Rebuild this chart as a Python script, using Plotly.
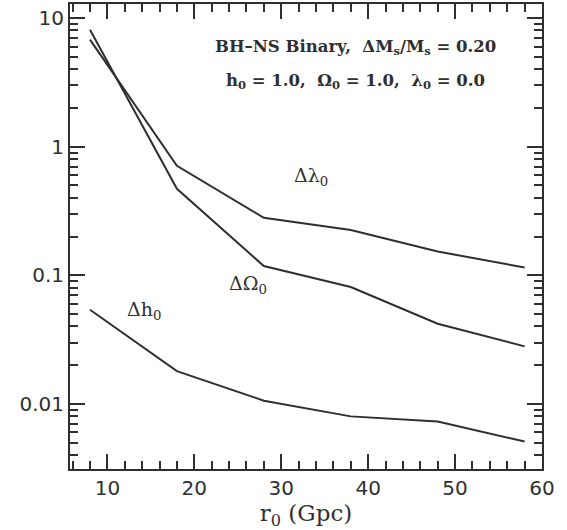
import plotly.graph_objects as go

r0 = [8, 18, 28, 38, 48, 58]
d_lambda = [6.8, 0.71, 0.28, 0.225, 0.153, 0.115]
d_omega = [8.1, 0.47, 0.118, 0.081, 0.042, 0.028]
d_h = [0.054, 0.018, 0.0106, 0.0080, 0.0073, 0.0051]

x_ticks = [10, 20, 30, 40, 50, 60]
y_ticks = [0.01, 0.1, 1, 10]
y_ticklabels = ["0.01", "0.1", "1", "10"]

ink = "#2f2f2f"
fig = go.Figure()
for ys in (d_lambda, d_omega, d_h):
    fig.add_trace(go.Scatter(x=r0, y=ys, mode="lines",
                             line=dict(color=ink, width=2), showlegend=False))

tfont = dict(family="DejaVu Sans", size=20, color=ink)
fig.update_layout(
    width=567, height=530,
    margin=dict(l=70, r=25, t=4, b=61),
    paper_bgcolor="white", plot_bgcolor="white",
    font=dict(family="DejaVu Serif", color=ink),
    xaxis=dict(range=[5.7, 60], tickvals=x_ticks, ticks="inside", ticklen=15,
               tickwidth=2, tickcolor=ink, showline=True, linecolor=ink,
               linewidth=2, mirror="allticks", showgrid=False, zeroline=False,
               tickfont=tfont, automargin=False,
               minor=dict(dtick=2, ticks="inside", ticklen=8, tickwidth=1.5,
                          tickcolor=ink, showgrid=False),
               title=dict(text="r<sub>0</sub> (Gpc)", font=dict(family="DejaVu Serif", size=23, color=ink),
                          standoff=2)),
    yaxis=dict(type="log", range=[-2.506, 1.109], tickvals=y_ticks,
               ticktext=y_ticklabels, ticks="inside", ticklen=15, tickwidth=2,
               tickcolor=ink, showline=True, linecolor=ink, linewidth=2,
               mirror="allticks", showgrid=False, zeroline=False, tickfont=tfont,
               automargin=False,
               minor=dict(dtick="D1", ticks="inside", ticklen=8, tickwidth=1.5,
                          tickcolor=ink, showgrid=False)),
)

afont = dict(family="DejaVu Serif", size=16.5, color=ink)
fig.add_annotation(x=0.604, y=0.933, xref="paper", yref="paper", xanchor="center",
                   text="<b>BH\u2013NS Binary,  \u0394M<sub>s</sub>/M<sub>s</sub> = 0.20</b>",
                   showarrow=False, font=afont)
fig.add_annotation(x=0.604, y=0.861, xref="paper", yref="paper", xanchor="center",
                   text="<b>h<sub>0</sub> = 1.0,  \u03a9<sub>0</sub> = 1.0,  \u03bb<sub>0</sub> = 0.0</b>",
                   showarrow=False, font=afont)
lfont = dict(family="DejaVu Serif", size=19, color=ink)
fig.add_annotation(x=33.4, y=-0.23, yref="y", text="\u0394\u03bb<sub>0</sub>", showarrow=False, font=lfont)
fig.add_annotation(x=26.2, y=-1.07, yref="y", text="\u0394\u03a9<sub>0</sub>", showarrow=False, font=lfont)
fig.add_annotation(x=14.2, y=-1.27, yref="y", text="\u0394h<sub>0</sub>", showarrow=False, font=lfont)

fig.write_html("out.html", config={"displayModeBar": False},
               post_script="document.body.style.margin='0';document.body.style.padding='0';")
